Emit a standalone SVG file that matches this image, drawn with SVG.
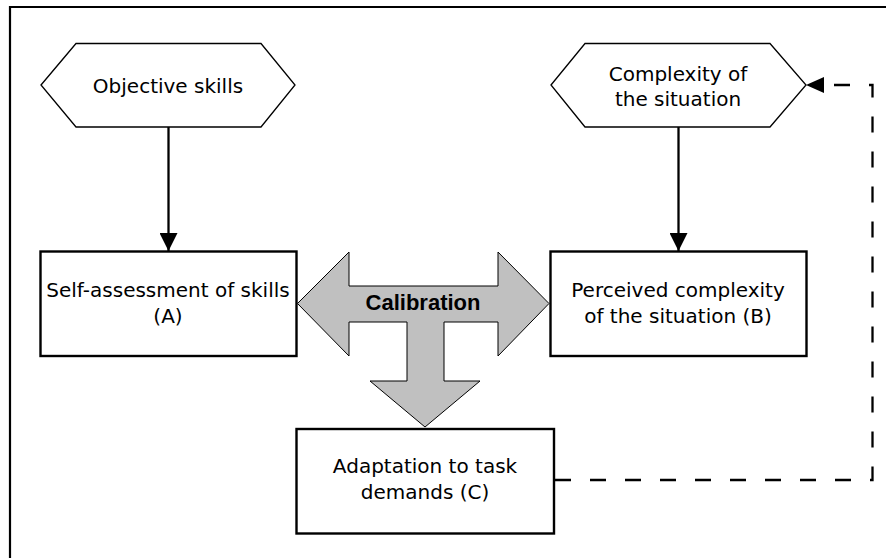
<svg xmlns="http://www.w3.org/2000/svg" width="886" height="558" viewBox="0 0 886 558">
<style>
.box{fill:#fff;stroke:#000;stroke-width:2.4}
.hex{fill:#fff;stroke:#000;stroke-width:1.3}
.t{font-family:"DejaVu Sans","Liberation Sans",sans-serif;font-size:20px;fill:#000;text-anchor:middle}
.b{font-family:"Liberation Sans",Arial,sans-serif;font-size:22px;font-weight:bold}
.conn{fill:none;stroke:#000;stroke-width:2.3}
.dash{stroke-dasharray:16 19}
</style>
<defs>
<marker id="ah" markerUnits="userSpaceOnUse" markerWidth="18" markerHeight="18" viewBox="0 0 18 18" refX="18" refY="9" orient="auto">
<path d="M0,0 L18,9 L0,18 Z" fill="#000"/>
</marker>
</defs>
<rect width="886" height="558" fill="#fff"/>
<path d="M10,558 V7 H886" fill="none" stroke="#000" stroke-width="2.2"/>
<g id="connectors">
<path class="conn" d="M168.5,127 V251" marker-end="url(#ah)"/>
<path class="conn" d="M678.5,127 V251" marker-end="url(#ah)"/>
<path class="conn dash" d="M555,480 H872.5 V85 H823"/>
<path d="M806,85 L824,77 L824,93 Z" fill="#000"/>
</g>
<g id="calibration">
<polygon points="297.5,303.5 349,252 349,286 498,286 498,252 549,303.5 498,356 498,322 444,322 444,381 480,381 425,427 370,381 407,381 407,322 349,322 349,356" fill="#c0c0c0" stroke="#000" stroke-width="1"/>
<text class="t b" x="423" y="310">Calibration</text>
</g>
<g id="objective-skills">
<polygon class="hex" points="41,85 76,43.5 261,43.5 295,85 261,127 76,127"/>
<text class="t" x="168" y="92.5">Objective skills</text>
</g>
<g id="complexity">
<polygon class="hex" points="551,85 585,43.5 770,43.5 806,85 770,127 585,127"/>
<text class="t" x="678" y="80.5">Complexity of</text>
<text class="t" x="678" y="106">the situation</text>
</g>
<g id="self-assessment">
<rect class="box" x="40.5" y="251.5" width="256" height="104.5"/>
<text class="t" x="168" y="296.7">Self-assessment of skills</text>
<text class="t" x="168" y="323">(A)</text>
</g>
<g id="perceived-complexity">
<rect class="box" x="550.5" y="251.5" width="256" height="104.5"/>
<text class="t" x="678" y="296.7">Perceived complexity</text>
<text class="t" x="678" y="323">of the situation (B)</text>
</g>
<g id="adaptation">
<rect class="box" x="296.5" y="429" width="257.5" height="104.5"/>
<text class="t" x="425" y="473.3">Adaptation to task</text>
<text class="t" x="425" y="499.3">demands (C)</text>
</g>
</svg>
